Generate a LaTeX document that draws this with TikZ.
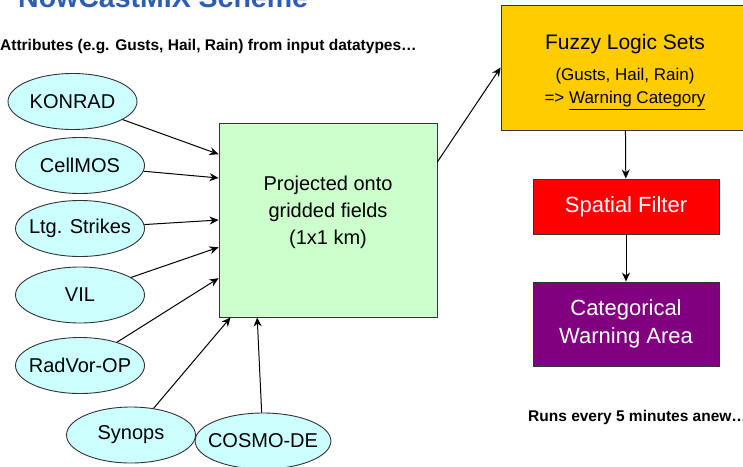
\documentclass[tikz,border=0pt]{standalone}
\usepackage{fontspec}
\setmainfont{Liberation Sans}
\usepackage{xcolor}
\usetikzlibrary{arrows.meta, positioning, shapes}

\definecolor{inputcyan}{HTML}{CCFFFF}
\definecolor{gridgreen}{HTML}{CCFFCC}
\definecolor{fuzzyyellow}{HTML}{FFCC00}
\definecolor{filterred}{HTML}{FF0000}
\definecolor{warnpurple}{HTML}{800080}
\definecolor{titleblue}{HTML}{2D5DB5}

\begin{document}
\begin{tikzpicture}[x=1pt, y=-1pt, >={Stealth[length=9pt, width=8pt]}, font=\fontsize{20}{24}\selectfont]
		\tikzstyle{input} = [draw=black!80, line width=0.9pt, ellipse, fill=inputcyan, minimum width=129pt, minimum height=56pt, inner xsep=-7pt, inner ysep=0pt]
		\tikzstyle{box} = [draw=black!80, line width=0.9pt, rectangle, align=center, inner sep=0pt]
		\tikzstyle{note} = [font=\fontsize{15.5}{18}\selectfont\bfseries, inner sep=0pt, anchor=base west]
		\tikzstyle{arrow} = [line width=1pt,->]
		
		\useasboundingbox (0,0) rectangle (743,466);
		
		\node[anchor=base west, inner sep=0pt, text=titleblue, font=\fontsize{28.5}{30}\selectfont\bfseries]	at (18, 7)	(title)	{NowCastMIX Scheme};
		\node[note]	at (0, 50)		(attr)	{Attributes (e.g. Gusts, Hail, Rain) from input datatypes…};
		\node[note]	at (528, 421)	(runs)	{Runs every 5 minutes anew…};
		
		\node[input]	at (72.5, 101.5)	(konrad)	{KONRAD};
		\node[input]	at (80, 165.5)		(cellmos)	{CellMOS};
		\node[input]	at (80, 228.5)		(ltg)		{Ltg. Strikes};
		\node[input]	at (80, 295)		(vil)		{VIL};
		\node[input]	at (80, 365.5)		(radvor)	{RadVor-OP};
		\node[input]	at (131, 435)		(synops)	{Synops};
		\node[input]	at (263, 441)		(cosmo)		{COSMO-DE};
		
		\node[box, fill=gridgreen, minimum width=218pt, minimum height=194pt]	at (328, 220)	(proj)	{};
		\node[align=center, inner sep=0pt, font=\fontsize{20}{27}\selectfont]	at (328, 212)	(projtext)	{Projected onto\\gridded fields\\(1x1 km)};
		
		\node[box, fill=fuzzyyellow, minimum width=248pt, minimum height=125pt]	at (625, 67.5)	(fuzzy)	{};
		\node[anchor=base, inner sep=0pt, font=\fontsize{21}{25}\selectfont]	at (625, 49)	(fuzzytitle)	{Fuzzy Logic Sets};
		\node[align=center, inner sep=0pt, font=\fontsize{17}{23}\selectfont]	at (625, 89)	(fuzzytext)	{(Gusts, Hail, Rain)\\=> \underline{Warning Category}};
		\node[box, fill=filterred, text=white, minimum width=186pt, minimum height=55pt, font=\fontsize{22}{26}\selectfont]	at (626, 206.5)	(filter)	{Spatial Filter};
		\node[box, fill=warnpurple, text=white, minimum width=186pt, minimum height=84pt, font=\fontsize{22}{28}\selectfont]	at (626, 324)	(area)	{Categorical\\Warning Area};
		
		\draw [arrow] (konrad)	-- (proj.149);
		\draw [arrow] (cellmos)	-- (proj.159);
		\draw [arrow] (ltg)		-- (proj.180);
		\draw [arrow] (vil)		-- (proj.194);
		\draw [arrow] (radvor)	-- (proj.208);
		\draw [arrow] (synops)	-- (proj.225);
		\draw [arrow] (cosmo)	-- (proj.234);
		
		\draw [arrow] (proj.28)	-- (fuzzy.west);
		\draw [arrow] (fuzzy)	-- (filter);
		\draw [arrow] (filter)	-- (area);
		
	\end{tikzpicture}
\end{document}
